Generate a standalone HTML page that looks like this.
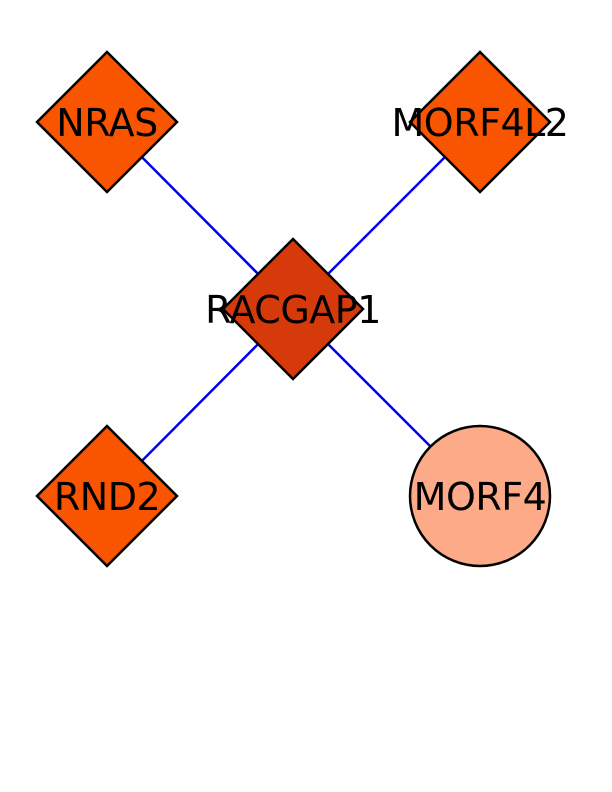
<!DOCTYPE html>
<html><head><style>html,body{margin:0;padding:0;background:#fff;width:612px;height:792px;overflow:hidden}</style></head>
<body>
<svg width="612" height="792" xmlns="http://www.w3.org/2000/svg">
<g stroke="#0000ee" stroke-width="2.5">
<line x1="107" y1="122" x2="293" y2="309"/>
<line x1="480" y1="122" x2="293" y2="309"/>
<line x1="107" y1="496" x2="293" y2="309"/>
<line x1="480" y1="496" x2="293" y2="309"/>
</g>
<g stroke="#000" stroke-width="2.5">
<polygon points="107,52 177,122 107,192 37,122" fill="#f95500"/>
<polygon points="480,52 550,122 480,192 410,122" fill="#f95500"/>
<polygon points="107,426 177,496 107,566 37,496" fill="#f95500"/>
<polygon points="293,239 363,309 293,379 223,309" fill="#d63a0b"/>
<circle cx="480" cy="496" r="70" fill="#fcaa88"/>
</g>
<g font-family="DejaVu Sans, sans-serif" font-size="38" fill="#000" text-anchor="middle" letter-spacing="-0.5">
<text x="107" y="136">NRAS</text>
<text x="480" y="136">MORF4L2</text>
<text x="293" y="323">RACGAP1</text>
<text x="107" y="510">RND2</text>
<text x="480" y="510">MORF4</text>
</g>
</svg>
</body></html>
